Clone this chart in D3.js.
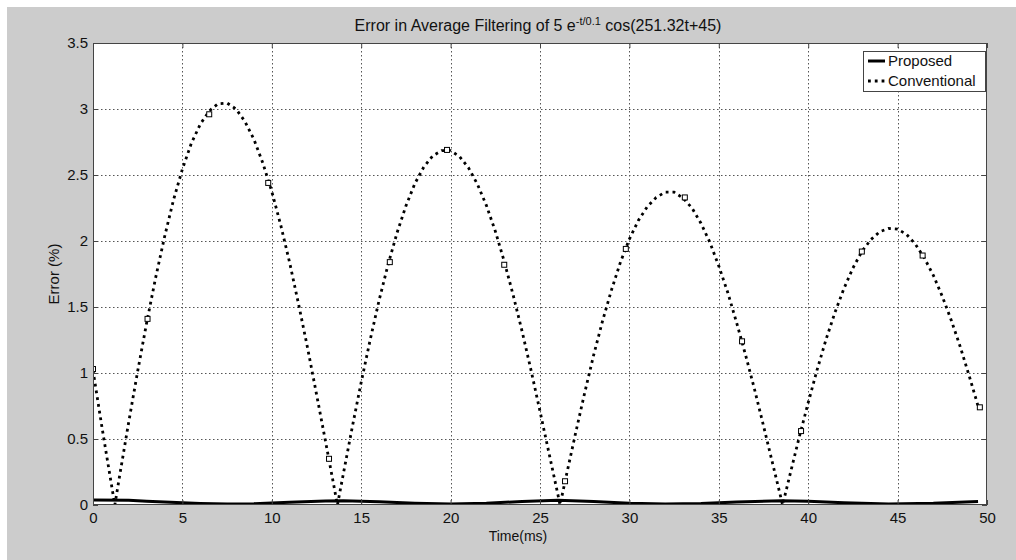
<!DOCTYPE html>
<html>
<head>
<meta charset="utf-8">
<script src="https://cdn.jsdelivr.net/npm/d3@7"></script>
<style>
  html, body { margin: 0; padding: 0; background: #ffffff; }
  svg { display: block; }
  text { font-family: "Liberation Sans", Arial, Helvetica, sans-serif; fill: #111; }
</style>
</head>
<body>
<svg id="chart" width="1016" height="560"></svg>
<script>
// ---- data -------------------------------------------------------------
const xTicks = [0, 5, 10, 15, 20, 25, 30, 35, 40, 45, 50];
const yTicks = [0, 0.5, 1, 1.5, 2, 2.5, 3, 3.5];
const seriesNames = ["Proposed", "Conventional"];

// Conventional filter error (%) versus time (ms)
const convTime = [
  0, 0.5, 1, 1.22, 1.5, 2, 2.5, 3, 3.5, 4, 4.5, 5, 5.5, 6, 6.5, 7, 7.5, 8, 8.5, 9, 9.5,
  10, 10.5, 11, 11.5, 12, 12.5, 13, 13.5, 13.67, 14, 14.5, 15, 15.5, 16, 16.5, 17, 17.5,
  18, 18.5, 19, 19.5, 20, 20.5, 21, 21.5, 22, 22.5, 23, 23.5, 24, 24.5, 25, 25.5, 26,
  26.12, 26.5, 27, 27.5, 28, 28.5, 29, 29.5, 30, 30.5, 31, 31.5, 32, 32.5, 33, 33.5, 34,
  34.5, 35, 35.5, 36, 36.5, 37, 37.5, 38, 38.5, 38.57, 39, 39.5, 40, 40.5, 41, 41.5, 42,
  42.5, 43, 43.5, 44, 44.5, 45, 45.5, 46, 46.5, 47, 47.5, 48, 48.5, 49, 49.5
];
const convError = [
  1.02, 0.59, 0.18, 0, 0.23, 0.63, 1.015, 1.38, 1.72, 2.03, 2.31, 2.545, 2.74, 2.885, 2.985, 3.04, 3.045, 3.0, 2.905, 2.77, 2.59,
  2.375, 2.12, 1.835, 1.52, 1.19, 0.84, 0.485, 0.125, 0, 0.235, 0.59, 0.93, 1.25, 1.55, 1.82, 2.06, 2.265,
  2.435, 2.56, 2.645, 2.685, 2.685, 2.64, 2.555, 2.43, 2.27, 2.075, 1.845, 1.59, 1.315, 1.02, 0.71, 0.395, 0.08,
  0, 0.24, 0.55, 0.85, 1.135, 1.395, 1.63, 1.84, 2.015, 2.155, 2.26, 2.33, 2.37, 2.37, 2.325, 2.25, 2.135,
  1.99, 1.81, 1.61, 1.38, 1.135, 0.875, 0.6, 0.32, 0.04, 0, 0.24, 0.515, 0.775, 1.025, 1.255, 1.46, 1.64,
  1.795, 1.92, 2.01, 2.07, 2.095, 2.09, 2.05, 1.975, 1.87, 1.74, 1.58, 1.4, 1.2, 0.98, 0.75
];

// square markers on the conventional curve
const markerTime  = [0, 3.05, 6.5, 9.8, 13.2, 16.6, 19.8, 23.0, 26.4, 29.8, 33.1, 36.3, 39.6, 43.0, 46.4, 49.6];
const markerError = [1.03, 1.41, 2.96, 2.44, 0.35, 1.84, 2.69, 1.82, 0.18, 1.94, 2.33, 1.24, 0.56, 1.92, 1.89, 0.74];

// Proposed filter error (%) versus time (ms)
const propTime  = [0, 2, 3, 4, 6, 7.5, 9, 11, 13, 14, 16, 18, 20, 22, 24, 26, 28, 30, 32, 34, 36, 38.5, 40, 42, 44.5, 47, 49.5];
const propError = [0.038, 0.036, 0.029, 0.022, 0.012, 0.008, 0.01, 0.02, 0.031, 0.032, 0.025, 0.014, 0.008, 0.014, 0.026, 0.036, 0.027, 0.014, 0.008, 0.011, 0.022, 0.032, 0.028, 0.017, 0.008, 0.013, 0.026];

// ---- layout -----------------------------------------------------------
const svg = d3.select("#chart");
const W = 1016, H = 560;
const plot = { left: 93, right: 987, top: 43, bottom: 505 };

const x = d3.scaleLinear().domain([0, 50]).range([plot.left, plot.right]);
const y = d3.scaleLinear().domain([0, 3.5]).range([plot.bottom, plot.top]);

// figure background
svg.append("rect").attr("x", 7).attr("y", 7).attr("width", W - 7).attr("height", H - 7).attr("fill", "#cccccc");

// plot area
svg.append("rect")
  .attr("x", plot.left).attr("y", plot.top)
  .attr("width", plot.right - plot.left).attr("height", plot.bottom - plot.top)
  .attr("fill", "#ffffff");

// dotted grid
const grid = svg.append("g").attr("stroke", "#555").attr("stroke-width", 1).attr("stroke-dasharray", "1.5,2.5");
grid.selectAll("line.gx").data(xTicks.slice(1, -1)).join("line")
  .attr("x1", d => Math.round(x(d)) + 0.5).attr("x2", d => Math.round(x(d)) + 0.5)
  .attr("y1", plot.top).attr("y2", plot.bottom);
grid.selectAll("line.gy").data(yTicks.slice(1, -1)).join("line")
  .attr("y1", d => Math.round(y(d)) + 0.5).attr("y2", d => Math.round(y(d)) + 0.5)
  .attr("x1", plot.left).attr("x2", plot.right);

// clip for the data
svg.append("clipPath").attr("id", "plotClip").append("rect")
  .attr("x", plot.left).attr("y", plot.top)
  .attr("width", plot.right - plot.left).attr("height", plot.bottom - plot.top);

const data = svg.append("g").attr("clip-path", "url(#plotClip)");

const line = d3.line().x(d => x(d[0])).y(d => y(d[1]));

const propPts = propTime.map((t, i) => [t, propError[i]]);
const convPts = convTime.map((t, i) => [t, convError[i]]);
const markPts = markerTime.map((t, i) => [t, markerError[i]]);

data.append("path").datum(propPts)
  .attr("d", line).attr("fill", "none").attr("stroke", "#000").attr("stroke-width", 3);

data.append("path").datum(convPts)
  .attr("d", line).attr("fill", "none").attr("stroke", "#000")
  .attr("stroke-width", 2.8).attr("stroke-dasharray", "2.8,4");

data.selectAll("rect.mk").data(markPts).join("rect")
  .attr("x", d => x(d[0]) - 2.5).attr("y", d => y(d[1]) - 2.5)
  .attr("width", 5).attr("height", 5)
  .attr("fill", "#fff").attr("stroke", "#000").attr("stroke-width", 1);

// frame
svg.append("rect")
  .attr("x", plot.left + 0.5).attr("y", plot.top + 0.5)
  .attr("width", plot.right - plot.left - 1).attr("height", plot.bottom - plot.top - 1)
  .attr("fill", "none").attr("stroke", "#444").attr("stroke-width", 1);

// axes (inward ticks, labels outside)
const xAxis = svg.append("g").attr("transform", `translate(0,${plot.bottom})`)
  .call(d3.axisBottom(x).tickValues(xTicks).tickSizeInner(-5).tickSizeOuter(0).tickPadding(6).tickFormat(d3.format("d")));
const yAxis = svg.append("g").attr("transform", `translate(${plot.left},0)`)
  .call(d3.axisLeft(y).tickValues(yTicks).tickSizeInner(-5).tickSizeOuter(0).tickPadding(5).tickFormat(d => String(d)));
const xAxisTop = svg.append("g").attr("transform", `translate(0,${plot.top})`)
  .call(d3.axisTop(x).tickValues(xTicks).tickSizeInner(-5).tickSizeOuter(0).tickFormat(""));
const yAxisRight = svg.append("g").attr("transform", `translate(${plot.right},0)`)
  .call(d3.axisRight(y).tickValues(yTicks).tickSizeInner(-5).tickSizeOuter(0).tickFormat(""));

[xAxis, yAxis, xAxisTop, yAxisRight].forEach(g => {
  g.select(".domain").remove();
  g.selectAll(".tick line").attr("stroke", "#444");
  g.selectAll(".tick text").attr("font-size", 15).attr("fill", "#111")
    .attr("font-family", "'Liberation Sans', Arial, sans-serif");
});
xAxis.selectAll(".tick text").attr("dy", "0.8em");

// title with superscript exponent
const title = svg.append("text").attr("x", 538).attr("y", 31).attr("text-anchor", "middle").attr("font-size", 16);
title.append("tspan").text("Error in Average Filtering of 5 e");
title.append("tspan").attr("dy", -6).attr("font-size", 11).text("-t/0.1");
title.append("tspan").attr("dy", 6).text(" cos(251.32t+45)");

// axis labels
svg.append("text").attr("x", 518).attr("y", 541).attr("text-anchor", "middle").attr("font-size", 14).text("Time(ms)");
svg.append("text").attr("transform", "translate(59,274) rotate(-90)").attr("text-anchor", "middle")
  .attr("font-size", 15).text("Error (%)");

// legend
const legend = svg.append("g");
legend.append("rect").attr("x", 863.5).attr("y", 51.5).attr("width", 122).attr("height", 40)
  .attr("fill", "#fff").attr("stroke", "#444").attr("stroke-width", 1);
const legendStyles = [
  { dash: null, width: 3 },
  { dash: "2.8,4", width: 2.8 }
];
seriesNames.forEach((name, i) => {
  const ly = 61 + i * 20;
  legend.append("line").attr("x1", 868).attr("x2", 885).attr("y1", ly).attr("y2", ly)
    .attr("stroke", "#000").attr("stroke-width", legendStyles[i].width)
    .attr("stroke-dasharray", legendStyles[i].dash);
  legend.append("text").attr("x", 888).attr("y", ly + 5).attr("font-size", 15).text(name);
});
</script>
</body>
</html>
